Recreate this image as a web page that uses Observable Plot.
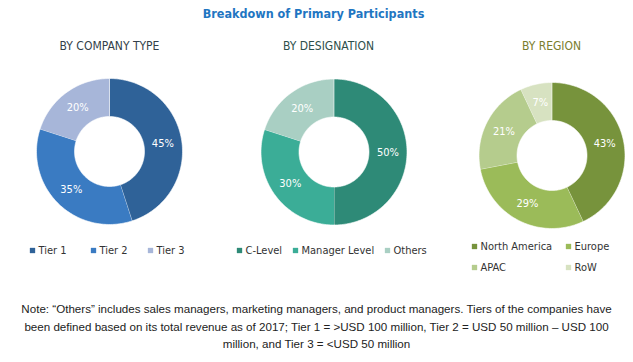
<!DOCTYPE html>
<html>
<head>
<meta charset="utf-8">
<script src="https://cdn.jsdelivr.net/npm/d3@7"></script>
<script src="https://cdn.jsdelivr.net/npm/@observablehq/plot@0.6"></script>
<style>
  html, body { margin: 0; padding: 0; background: #fff; }
  #wrap { position: relative; width: 633px; height: 362px; overflow: hidden; }
  #note { position: absolute; left: 0; top: 300px; width: 633px; text-align: center;
          font-family: "Liberation Sans", Arial, sans-serif; font-size: 11.6px; line-height: 17.5px; color: #222; }
</style>
</head>
<body>
<div id="wrap"><div id="chart"></div>
<div id="note">Note: “Others” includes sales managers, marketing managers, and product managers. Tiers of the companies have<br>been defined based on its total revenue as of 2017; Tier 1 = &gt;USD 100 million, Tier 2 = USD 50 million – USD 100<br>million, and Tier 3 = &lt;USD 50 million</div>
</div>
<script>
// ---- data ----
const chartTitle = "Breakdown of Primary Participants";
const companyTypes = ["Tier 1", "Tier 2", "Tier 3"];
const companyShares = [45, 35, 20];
const designations = ["C-Level", "Manager Level", "Others"];
const designationShares = [50, 30, 20];
const regions = ["North America", "Europe", "APAC", "RoW"];
const regionShares = [43, 29, 21, 7];
const panelTitles = ["BY COMPANY TYPE", "BY DESIGNATION", "BY REGION"];

// ---- styles / layout ----
const companyColors = ["#2f6298", "#3a7bc2", "#a7b6d9"];
const designationColors = ["#2e8a77", "#3bad97", "#a9cfc3"];
const regionColors = ["#77933c", "#9bbb59", "#b5cc8d", "#d7e2c1"];
const titleColors = ["#333f4a", "#2e4f4b", "#7a7d2e"];
const centers = [[109, 151], [333.5, 151.5], [551.5, 155]];
const titleX = [109, 328, 551];
const rOut = 73, rIn = 35;
const legendPos = [
  [[32, 250], [93, 250], [150, 250]],
  [[239, 250], [295, 250], [387, 250]],
  [[474, 246], [568, 246], [474, 267], [568, 267]]
];

const panels = [
  {cats: companyTypes, vals: companyShares},
  {cats: designations, vals: designationShares},
  {cats: regions, vals: regionShares}
];

const polys = [], labels = [], legend = [], titles = [];
panels.forEach((p, i) => {
  const [cx, cy] = centers[i];
  const rows = p.cats.map((c, j) => ({cat: c, value: p.vals[j]}));
  const arcs = d3.pie().sort(null).value(d => d.value)(rows);
  arcs.forEach(a => {
    const n = Math.max(8, Math.ceil((a.endAngle - a.startAngle) * 40));
    const pts = [];
    for (let k = 0; k <= n; k++) {
      const t = a.startAngle + (a.endAngle - a.startAngle) * k / n;
      pts.push({x: cx + rOut * Math.sin(t), y: cy - rOut * Math.cos(t)});
    }
    for (let k = n; k >= 0; k--) {
      const t = a.startAngle + (a.endAngle - a.startAngle) * k / n;
      pts.push({x: cx + rIn * Math.sin(t), y: cy - rIn * Math.cos(t)});
    }
    pts.forEach(pt => polys.push({...pt, cat: a.data.cat}));
    const m = (a.startAngle + a.endAngle) / 2, rm = (rOut + rIn) / 2;
    labels.push({x: cx + rm * Math.sin(m), y: cy - rm * Math.cos(m), text: a.data.value + "%"});
  });
  p.cats.forEach((c, j) => legend.push({x: legendPos[i][j][0], y: legendPos[i][j][1], cat: c}));
  titles.push({x: titleX[i], y: 46, text: panelTitles[i], color: titleColors[i]});
});

const allCats = [...companyTypes, ...designations, ...regions];
const allColors = [...companyColors, ...designationColors, ...regionColors];
const narrow = "'Liberation Sans Narrow', 'Arial Narrow', 'DejaVu Sans Condensed', sans-serif";

const plot = Plot.plot({
  width: 633, height: 300,
  margin: 0,
  style: {background: "#fff", fontFamily: narrow},
  x: {domain: [0, 633], range: [0, 633], axis: null},
  y: {domain: [0, 300], range: [0, 300], axis: null},
  color: {type: "ordinal", domain: allCats, range: allColors},
  marks: [
    Plot.line(polys, {x: "x", y: "y", z: "cat", fill: "cat", stroke: "#ffffff", strokeWidth: 0.6, curve: "linear"}),
    Plot.text(labels, {x: "x", y: "y", text: "text", fill: "#fff", fontSize: 11, fontFamily: narrow}),
    Plot.dot(legend, {x: "x", y: "y", fill: "cat", symbol: "square", r: 3, stroke: null}),
    Plot.text(legend, {x: d => d.x + 6, y: "y", text: "cat", textAnchor: "start", fill: "#333", fontSize: 11, fontFamily: narrow}),
    Plot.text(titles, {x: "x", y: "y", text: "text", fill: d => d.color, fontSize: 12, fontFamily: narrow}),
    Plot.text([chartTitle], {x: () => 313, y: () => 13, text: d => d, fill: "#1f76c2", fontSize: 12.5, fontWeight: "bold", fontFamily: narrow})
  ]
});
document.getElementById("chart").appendChild(plot);
</script>
</body>
</html>
